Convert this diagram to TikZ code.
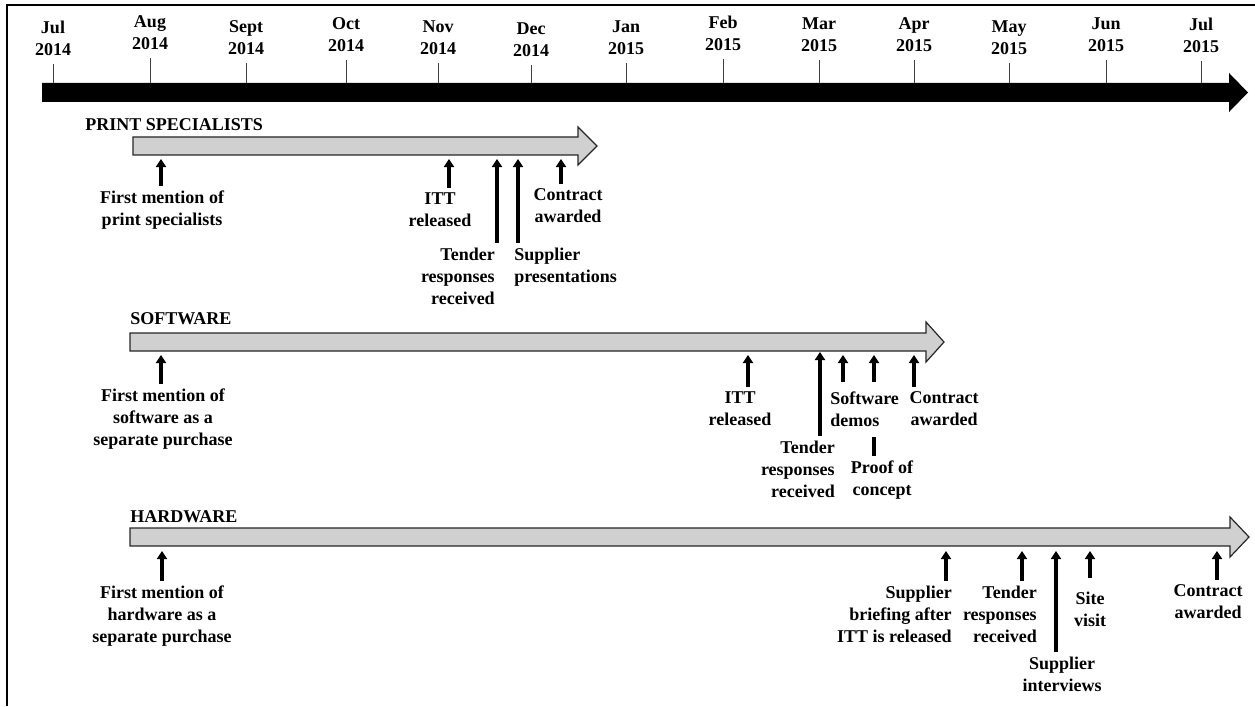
\documentclass[tikz,border=0pt]{standalone}
\usepackage{fontspec}
\setmainfont{Liberation Serif}
\usetikzlibrary{arrows.meta}
\begin{document}
\begin{tikzpicture}[x=0.75pt,y=-0.75pt,
  txt/.style={font=\fontsize{13.5}{16.5}\selectfont\bfseries, inner sep=0pt},
  month/.style={txt, align=center, anchor=north, outer ysep=6pt},
  lbl/.style={txt, outer ysep=3.75pt},
  ctr/.style={lbl, align=center, anchor=north},
  rgt/.style={lbl, align=right, anchor=north east},
  lft/.style={lbl, align=left, anchor=north west},
  title/.style={txt, anchor=west},
  tick/.style={line width=0.6pt, black!75},
  band/.style={draw=black!85, line width=0.9pt, fill=gray!37, line join=miter},
  up/.style={line width=3pt, -{Triangle[length=6pt,width=7.5pt]}},
]
\useasboundingbox (0,0) rectangle (1255,706);

% frame (top and left edges only)
\draw[line width=2pt] (7,706) -- (7,5) -- (1255,5);

% main time axis
\fill (42,83) -- (1229,83) -- (1229,73) -- (1248,92.5) -- (1229,112) -- (1229,102) -- (42,102) -- cycle;

% month labels with their ticks
\foreach \name/\x/\y/\mo/\yr in {
  m1/53/27/Jul/2014, m2/150/22/Aug/2014, m3/246/27/Sept/2014,
  m4/346/24/Oct/2014, m5/438/27/Nov/2014, m6/531/29/Dec/2014,
  m7/626/27/Jan/2015, m8/723/22/Feb/2015, m9/819/24/Mar/2015,
  m10/914/24/Apr/2015, m11/1009/27/May/2015, m12/1106/24/Jun/2015,
  m13/1201/24/Jul/2015}{
  \node[month] (\name) at (\x,\y-14) {\mo\\\yr};
  \coordinate (\name-t) at (\x,83);
  \draw[tick] (\name-t |- \name.south) -- (\name-t);
}

% ---------- print specialists ----------
\node[title] (ps) at (85,125) {PRINT SPECIALISTS};
\draw[band] (133,137) -- (578,137) -- (578,127) -- (597,146) -- (578,165) -- (578,155) -- (133,155) -- cycle;
\coordinate (p1) at (161,159);
\coordinate (p2) at (449,159);
\coordinate (p3) at (497,159);
\coordinate (p4) at (518,159);
\coordinate (p5) at (561,159);
\node[ctr] (p1l) at (162,197-11) {First mention of\\print specialists};
\node[ctr] (p2l) at (440,199-11) {ITT\\released};
\node[rgt] (p3l) at (495,254-11) {Tender\\responses\\received};
\node[lft] (p4l) at (514,254-11) {Supplier\\presentations};
\node[ctr] (p5l) at (568,195-11) {Contract\\awarded};
\foreach \e in {p1,p2,p3,p4,p5}
  \draw[up] (\e |- \e l.north) -- (\e);

% ---------- software ----------
\node[title] (sw) at (130,319) {SOFTWARE};
\draw[band] (130,333) -- (926,333) -- (926,322) -- (944,342) -- (926,362) -- (926,351) -- (130,351) -- cycle;
\coordinate (s1) at (161,355);
\coordinate (s2) at (748,355);
\coordinate (s3) at (820,352);
\coordinate (s4) at (843,355);
\coordinate (s5) at (874,355);
\coordinate (s6) at (914,355);
\node[ctr] (s1l) at (163,395-11) {First mention of\\software as a\\separate purchase};
\node[ctr] (s2l) at (740,398-11) {ITT\\released};
\node[rgt] (s3l) at (835,447-11) {Tender\\responses\\received};
\node[ctr] (s5l) at (882,467-11) {Proof of\\concept};
\draw[up] (s5 |- s5l.north) -- (s5);
% the demos label sits over the proof-of-concept connector
\node[lft, fill=white, inner ysep=7.5pt, outer ysep=0pt] (s4l) at (830,382) {Software\\demos};
\node[ctr] (s6l) at (944,398-11) {Contract\\awarded};
\foreach \e in {s1,s2,s3,s4,s6}
  \draw[up] (\e |- \e l.north) -- (\e);

% ---------- hardware ----------
\node[title] (hw) at (130,517) {HARDWARE};
\draw[band] (130,528) -- (1230,528) -- (1230,517) -- (1249,537) -- (1230,557) -- (1230,546) -- (130,546) -- cycle;
\coordinate (h1) at (162,551);
\coordinate (h2) at (946,551);
\coordinate (h3) at (1022,551);
\coordinate (h4) at (1056,551);
\coordinate (h5) at (1090,551);
\coordinate (h6) at (1217,551);
\node[ctr] (h1l) at (162,592-11) {First mention of\\hardware as a\\separate purchase};
\node[rgt] (h2l) at (952,592-11) {Supplier\\briefing after\\ITT is released};
\node[rgt] (h3l) at (1037,592-11) {Tender\\responses\\received};
\node[ctr] (h4l) at (1062,663-11) {Supplier\\interviews};
\node[ctr, outer ysep=10.5pt] (h5l) at (1090,578) {Site\\visit};
\node[ctr] (h6l) at (1208,591-11) {Contract\\awarded};
\foreach \e in {h1,h2,h3,h4,h5,h6}
  \draw[up] (\e |- \e l.north) -- (\e);
\end{tikzpicture}
\end{document}
